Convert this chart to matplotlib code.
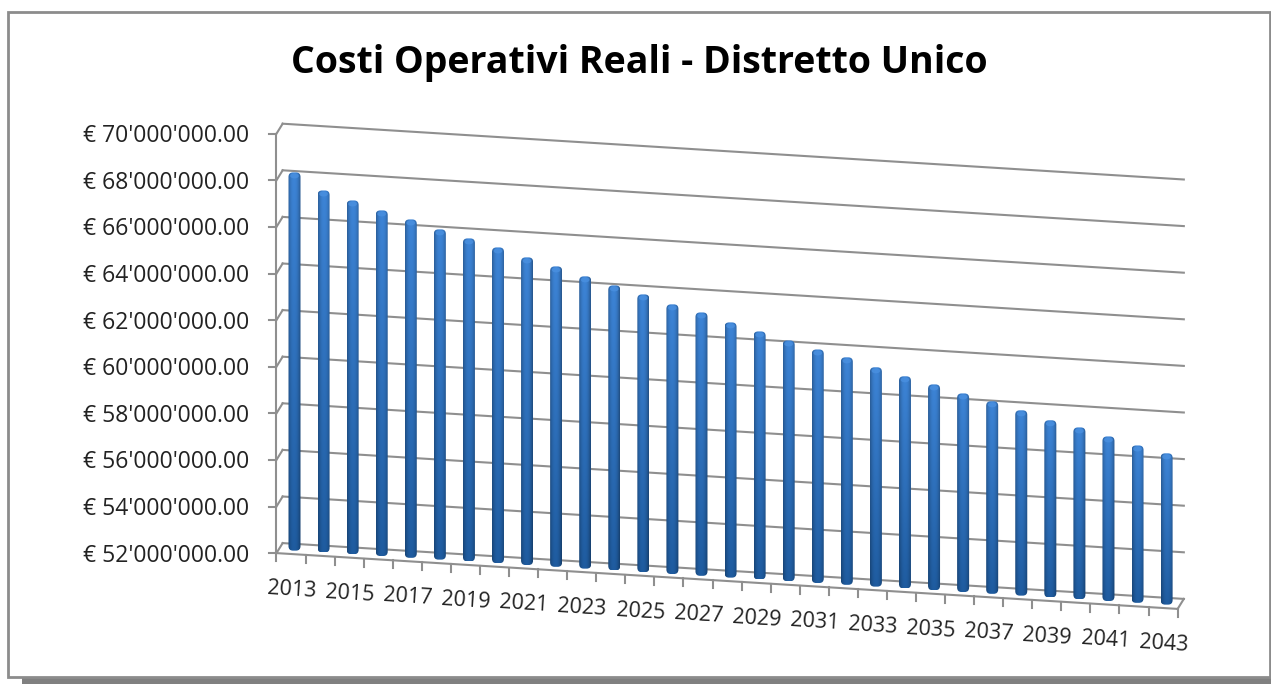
import numpy as np
import matplotlib
matplotlib.use('Agg')
import matplotlib.pyplot as plt
from matplotlib.patches import FancyBboxPatch, Rectangle, Ellipse
from matplotlib.transforms import Affine2D

plt.rcParams['font.family'] = ['Open Sans', 'DejaVu Sans']

title = 'Costi Operativi Reali - Distretto Unico'
years = list(range(2013, 2044))
# costs in millions of euro
costs = [68.18, 67.48, 67.13, 66.78, 66.47, 66.12, 65.81, 65.50, 65.15, 64.84, 64.49,
         64.18, 63.87, 63.52, 63.25, 62.90, 62.59, 62.28, 61.97, 61.71, 61.36, 61.05,
         60.78, 60.47, 60.21, 59.90, 59.55, 59.32, 59.01, 58.70, 58.44]
y_ticks = [52, 54, 56, 58, 60, 62, 64, 66, 68, 70]
x_labels = years[::2]

fig = plt.figure(figsize=(12.71, 6.84), dpi=100)
ax = fig.add_axes([0, 0, 1, 1])
ax.axis('off')

# fake 3D: shear (year, value) onto the picture, with a front and back plane
skew = Affine2D.from_values(29.07, 1.8, 0, -23.3, 294.5 - 29.07 * 2013, 549 - 1.8 * 2013 + 23.3 * 52)
front_skew = skew + Affine2D().translate(-3.5, 5)
back_skew = skew + Affine2D().translate(2.7, -5)
front = front_skew + ax.transData
back = back_skew + ax.transData

# outer box and its shadow
ax.add_patch(Rectangle((22, 20), 1260, 664, fc='#808080', ec='none', zorder=0))
ax.add_patch(Rectangle((8, 12), 1262, 665, fc='white', ec='#8c8c8c', lw=2, zorder=1))

x0, x1 = years[0] - 0.5, years[-1] + 0.5
grid_c = '#8f8f8f'

for v in y_ticks:
    ax.plot([x0, x1], [v, v], color=grid_c, lw=1.5, transform=back, zorder=2)
    a = front_skew.transform((x0, v))
    b = back_skew.transform((x0, v))
    ax.plot([a[0], b[0]], [a[1], b[1]], color=grid_c, lw=1.5, zorder=2)
    ax.plot([a[0] - 7, a[0]], [a[1], a[1]], color=grid_c, lw=1.5, zorder=2)
    ax.text(249, a[1] + 2.5, f"€ {v}'000'000.00", ha='right', va='center',
            fontsize=16.5, color='#222222', zorder=5)

# left axis, floor edge and right floor diagonal
ax.plot([x0, x0], [y_ticks[0], y_ticks[-1]], color=grid_c, lw=1.5, transform=front, zorder=2)
ax.plot([x0, x1], [52, 52], color=grid_c, lw=1.5, transform=front, zorder=2)
a = front_skew.transform((x1, 52))
b = back_skew.transform((x1, 52))
ax.plot([a[0], b[0]], [a[1], b[1]], color=grid_c, lw=1.5, zorder=2)

for yr in np.arange(x0, x1 + 0.5):
    a = front_skew.transform((yr, 52))
    ax.plot([a[0], a[0]], [a[1], a[1] + 8], color=grid_c, lw=1.5, zorder=2)

for yr in x_labels:
    a = front_skew.transform((yr, 52))
    ax.text(a[0] + 0.5, a[1] + 36, str(yr), ha='center', va='center', rotation=-3.5,
            rotation_mode='anchor', fontsize=15.5, color='#222222', zorder=5)

# cylinder bars: a gradient image clipped to a rounded box
half_w = 6.0 / 29.07
cols = np.linspace(-1, 1, 24)
shade = 1 - 0.30 * np.abs(cols + 0.05) ** 2.2
top_c = np.array([0x3d, 0x84, 0xd6]) / 255
bot_c = np.array([0x1f, 0x5c, 0xa0]) / 255

for yr, v in zip(years, costs):
    xa, ya = skew.transform((yr - half_w, 52))
    xb, yb = skew.transform((yr + half_w, v))
    ya += 2
    t = np.linspace(0, 1, 60)[:, None, None]
    img = (top_c[None, None, :] * (1 - t) + bot_c[None, None, :] * t) * shade[None, :, None]
    im = ax.imshow(np.clip(img, 0, 1), extent=(xa, xb, ya, yb), aspect='auto',
                   interpolation='bilinear', zorder=3)
    clip = FancyBboxPatch((xa, yb), xb - xa, ya - yb, boxstyle='round,pad=0,rounding_size=4.5',
                          fc='none', ec='none', transform=ax.transData)
    ax.add_patch(clip)
    im.set_clip_path(clip)
    ax.add_patch(Ellipse(((xa + xb) / 2, yb + 3.5), (xb - xa) * 0.72, 5, fc='#4a90e0',
                         ec='none', alpha=0.8, zorder=4))

ax.text(639, 63, title, ha='center', va='center', fontsize=27, fontweight='bold',
        color='black', zorder=5)

ax.set_xlim(0, 1271)
ax.set_ylim(684, 0)
fig.savefig('out.png', dpi=100, facecolor='white')
